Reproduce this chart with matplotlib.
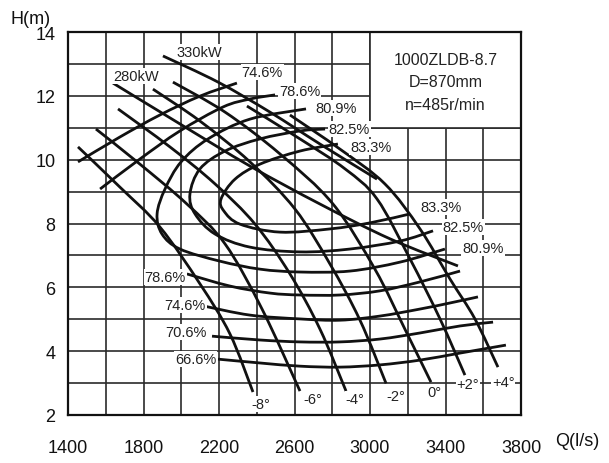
import matplotlib
matplotlib.use('Agg')
import matplotlib.pyplot as plt
import numpy as np
from matplotlib.path import Path
from matplotlib.patches import PathPatch, Rectangle

plt.rcParams['font.family'] = ['Liberation Sans', 'DejaVu Sans']

# blade angle H-Q curves (Q in l/s, H in m)
angle_labels = ['-8°', '-6°', '-4°', '-2°', '0°', '+2°', '+4°']
angle_q = [
    [1453, 1675, 1887, 2099, 2258, 2380],
    [1548, 1781, 2030, 2232, 2428, 2629],
    [1665, 1940, 2179, 2391, 2576, 2735, 2873],
    [1850, 2099, 2364, 2603, 2788, 2947, 3085],
    [1956, 2232, 2523, 2804, 3026, 3185, 3323],
    [2348, 2629, 2868, 3037, 3212, 3371, 3503],
    [2576, 2841, 3079, 3265, 3424, 3556, 3678],
]
angle_h = [
    [10.40, 9.14, 7.89, 6.11, 4.54, 2.72],
    [10.96, 9.86, 8.61, 7.36, 5.32, 2.75],
    [11.59, 10.40, 9.24, 7.98, 6.42, 4.69, 2.75],
    [12.21, 11.21, 9.93, 8.45, 6.73, 4.97, 2.99],
    [12.43, 11.49, 10.18, 8.61, 6.57, 4.69, 3.03],
    [11.68, 10.65, 9.71, 8.77, 6.89, 5.01, 3.25],
    [11.40, 10.33, 9.24, 7.83, 6.26, 5.01, 3.50],
]
angle_label_pos = [(2423, 2.34), (2698, 2.50), (2921, 2.50), (3138, 2.60),
                   (3344, 2.72), (3519, 2.97), (3705, 3.03)]

# shaft power lines
power_labels = ['280kW', '330kW']
power_q = [
    [1638, 1993, 2364, 2735, 3106, 3466],
    [1903, 2195, 2470, 2735, 3037],
]
power_h = [
    [12.40, 11.12, 9.80, 8.61, 7.52, 6.67],
    [13.25, 12.43, 11.49, 10.49, 9.39],
]
power_label_pos = [(1760, 12.62), (2094, 13.37)]

# efficiency iso-lines
eff_q = {
    '83.3%': [2830, 2629, 2417, 2285, 2211, 2226, 2311, 2523, 2788, 3000, 3212],
    '82.5%': [2762, 2629, 2417, 2232, 2099, 2046, 2073, 2179, 2364, 2629,
              2894, 3159, 3334],
    '80.9%': [2661, 2364, 2142, 1999, 1914, 1872, 1898, 1993, 2205, 2417,
              2629, 2894, 3159, 3397],
    '78.6% up': [1570, 1781, 1993, 2221, 2364, 2497],
    '78.6%': [2030, 2258, 2470, 2629, 2841, 3053, 3265, 3477],
    '74.6% up': [1453, 1675, 1887, 2099, 2295],
    '74.6%': [2115, 2364, 2629, 2841, 3053, 3265, 3424, 3572],
    '70.6%': [2163, 2417, 2629, 2841, 3053, 3265, 3477, 3652],
    '66.6%': [2195, 2417, 2629, 2841, 3053, 3265, 3477, 3720],
}
eff_h = {
    '83.3%': [10.49, 10.27, 9.86, 9.39, 8.77, 8.39, 7.98, 7.73, 7.83, 8.02, 8.30],
    '82.5%': [10.96, 10.90, 10.65, 10.27, 9.71, 8.92, 8.30, 7.67, 7.26, 7.11,
              7.20, 7.45, 7.77],
    '80.9%': [11.59, 11.27, 10.65, 9.93, 9.08, 8.30, 7.67, 7.20, 6.82, 6.57,
              6.48, 6.51, 6.79, 7.20],
    '78.6% up': [9.08, 10.02, 10.90, 11.65, 11.90, 12.03],
    '78.6%': [6.42, 6.04, 5.82, 5.76, 5.76, 5.89, 6.17, 6.51],
    '74.6% up': [9.93, 10.71, 11.40, 11.99, 12.40],
    '74.6%': [5.42, 5.13, 5.01, 4.97, 5.10, 5.32, 5.51, 5.70],
    '70.6%': [4.47, 4.35, 4.29, 4.29, 4.38, 4.57, 4.79, 4.91],
    '66.6%': [3.75, 3.63, 3.53, 3.50, 3.57, 3.72, 3.94, 4.19],
}
eff_label_pos = [
    ('74.6%', 2428, 12.75), ('78.6%', 2629, 12.15), ('80.9%', 2820, 11.62),
    ('82.5%', 2889, 10.96), ('83.3%', 3005, 10.40),
    ('83.3%', 3376, 8.52), ('82.5%', 3493, 7.89), ('80.9%', 3599, 7.23),
    ('78.6%', 1914, 6.32), ('74.6%', 2020, 5.45), ('70.6%', 2025, 4.60),
    ('66.6%', 2078, 3.75),
]

info_lines = ['1000ZLDB-8.7', 'D=870mm', 'n=485r/min']


def smooth_path(q, h):
    # Catmull-Rom through the read points, drawn as cubic Bezier segments
    p = np.column_stack([q, h]).astype(float)
    n = len(p)
    verts = [p[0]]
    codes = [Path.MOVETO]
    for i in range(n - 1):
        p0 = p[i - 1] if i > 0 else p[i]
        p1, p2 = p[i], p[i + 1]
        p3 = p[i + 2] if i + 2 < n else p[i + 1]
        verts += [p1 + (p2 - p0) / 6, p2 - (p3 - p1) / 6, p2]
        codes += [Path.CURVE4] * 3
    return Path(verts, codes)


def draw_curve(ax, q, h):
    ax.add_patch(PathPatch(smooth_path(q, h), fill=False, lw=2.0,
                           ec='#111111', capstyle='butt', zorder=3))


fig = plt.figure(figsize=(6.09, 4.64), dpi=100)
ax = fig.add_axes([68 / 609, 1 - 416 / 464, 453 / 609, 383 / 464])
ax.set_xlim(1400, 3800)
ax.set_ylim(2, 14)

ax.set_xticks(np.arange(1400, 3801, 400))
ax.set_xticks(np.arange(1400, 3801, 200), minor=True)
ax.set_yticks(np.arange(2, 15, 2))
ax.set_yticks(np.arange(2, 15, 1), minor=True)
ax.grid(which='both', color='#2a2a2a', lw=1.2, zorder=1)
ax.tick_params(which='both', length=0, labelsize=13, colors='#111111')
ax.tick_params(axis='x', pad=17)
ax.tick_params(axis='y', pad=9)
for s in ax.spines.values():
    s.set_linewidth(1.6)
    s.set_color('#111111')
    s.set_zorder(6)

# info box in the upper right corner
ax.add_patch(Rectangle((3000, 11), 800, 3, fc='white', ec='#2a2a2a',
                       lw=1.2, zorder=2))
for i, t in enumerate(info_lines):
    ax.text(3400, 13.15 - i * 0.71, t, ha='center', va='center',
            fontsize=11.5, color='#222222', zorder=5)

for q, h in zip(angle_q, angle_h):
    draw_curve(ax, q, h)
for q, h in zip(power_q, power_h):
    draw_curve(ax, q, h)
for key in eff_q:
    draw_curve(ax, eff_q[key], eff_h[key])

box = dict(fc='white', ec='none', pad=0.6)
for lab, (x, y) in zip(angle_labels, angle_label_pos):
    ax.text(x, y, lab, ha='center', va='center', fontsize=10.5,
            color='#222222', bbox=box, zorder=4)
for lab, (x, y) in zip(power_labels, power_label_pos):
    ax.text(x, y, lab, ha='center', va='center', fontsize=10.5,
            color='#222222', bbox=box, zorder=4)
for lab, x, y in eff_label_pos:
    ax.text(x, y, lab, ha='center', va='center', fontsize=10.5,
            color='#222222', bbox=box, zorder=4)

fig.text(31 / 609, 1 - 20 / 464, 'H(m)', ha='center', va='center',
         fontsize=13, color='#111111')
fig.text(577 / 609, 1 - 441 / 464, 'Q(l/s)', ha='center', va='center',
         fontsize=13, color='#111111')

fig.savefig('out.png', dpi=100)
